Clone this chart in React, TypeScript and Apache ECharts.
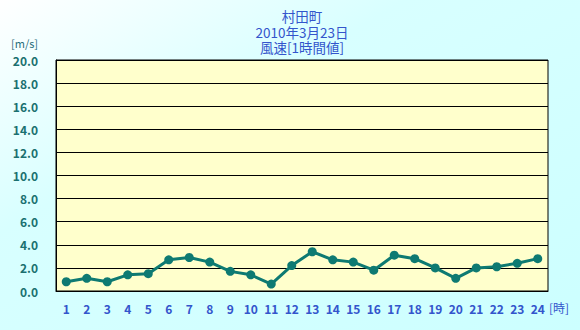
import React, { useEffect, useRef } from "react";
import * as echarts from "echarts";

const hours = ["1","2","3","4","5","6","7","8","9","10","11","12","13","14","15","16","17","18","19","20","21","22","23","24"];
const windSpeed = [0.8, 1.1, 0.8, 1.4, 1.5, 2.7, 2.9, 2.5, 1.7, 1.4, 0.6, 2.2, 3.4, 2.7, 2.5, 1.8, 3.1, 2.8, 2.0, 1.1, 2.0, 2.1, 2.4, 2.8];
const titleLines = ["村田町", "2010年3月23日", "風速[1時間値]"];
const yUnit = "[m/s]";
const xUnit = "[時]";

export default function App() {
  const ref = useRef<HTMLDivElement>(null);
  useEffect(() => {
    const chart = echarts.init(ref.current!, null, { renderer: "svg" });
    const font = "'Noto Sans CJK JP', sans-serif";
    const titleY = [16, 32, 47];
    chart.setOption({
      animation: false,
      backgroundColor: {
        type: "linear", x: 0, y: 0, x2: 1, y2: 1,
        colorStops: [
          { offset: 0, color: "#ffffff" },
          { offset: 0.35, color: "#d8ffff" },
          { offset: 1, color: "#ccffff" },
        ],
      },
      grid: {
        left: 56, right: 32, top: 60, bottom: 39,
        show: true, backgroundColor: "#ffffcc", borderColor: "#000", borderWidth: 1,
      },
      graphic: [
        ...titleLines.map((t, i) => ({
          type: "text", x: 302, y: titleY[i],
          style: {
            text: t, fill: "#3355cc", font: `13.5px ${font}`, lineHeight: 14,
            textAlign: "center", textVerticalAlign: "middle",
          },
        })),
        {
          type: "text", x: 11, y: 37,
          style: { text: yUnit, fill: "#2a6e7a", font: `11px ${font}` },
        },
        {
          type: "text", x: 549, y: 301,
          style: { text: xUnit, fill: "#3355cc", font: `12px ${font}` },
        },
      ],
      xAxis: {
        type: "category", data: hours, boundaryGap: true,
        axisLine: { lineStyle: { color: "#000", width: 1 } },
        axisTick: { inside: true, length: 5, lineStyle: { color: "#000" } },
        axisLabel: { color: "#3355cc", fontWeight: "bold", fontSize: 12, margin: 11, fontFamily: font, interval: 0 },
        splitLine: { show: false },
      },
      yAxis: {
        type: "value", min: 0, max: 20, interval: 2,
        axisLine: { show: true, lineStyle: { color: "#000" } },
        axisTick: { show: false },
        axisLabel: {
          color: "#1a7070", fontWeight: "bold", fontSize: 12, margin: 18, fontFamily: font,
          formatter: (v: number) => v.toFixed(1),
        },
        splitLine: { show: true, lineStyle: { color: "#000", width: 1 } },
      },
      series: [
        {
          type: "line", data: windSpeed,
          lineStyle: { color: "#0e7a72", width: 3 },
          itemStyle: { color: "#0e7a72" },
          symbol: "circle", symbolSize: 9,
        },
      ],
    });
    return () => chart.dispose();
  }, []);
  return <div ref={ref} style={{ position: "fixed", left: 0, top: 0, width: 580, height: 330 }} />;
}
